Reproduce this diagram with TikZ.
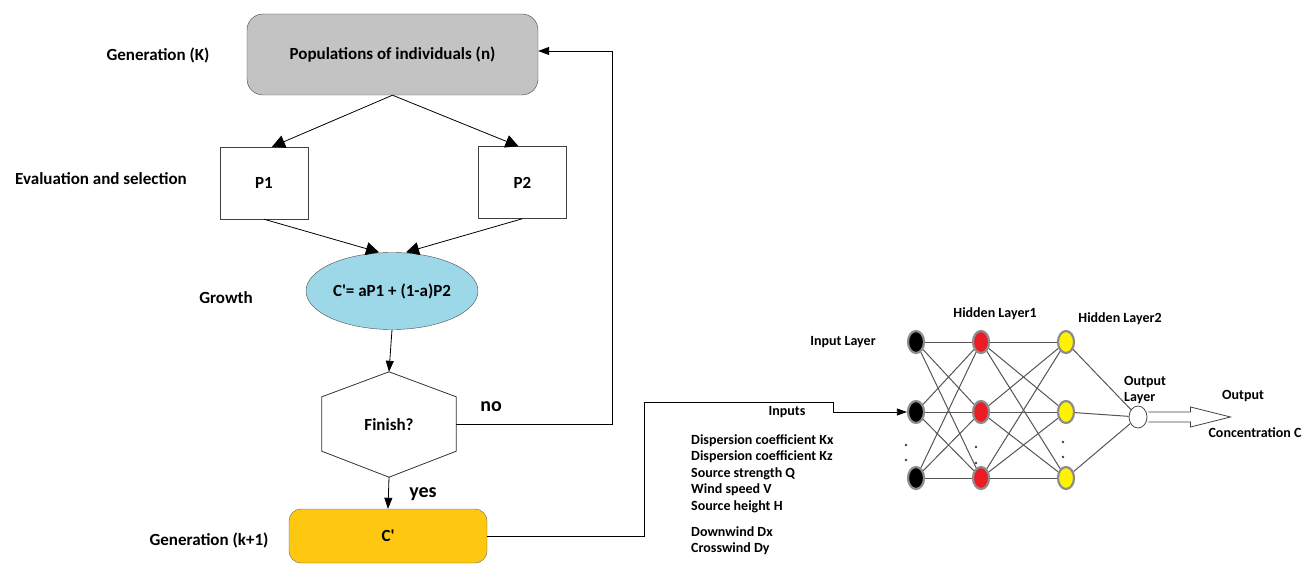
\documentclass[tikz,border=0pt]{standalone}
\usepackage{fontspec}
\setmainfont{Carlito}
\usepackage{tikz}
\usetikzlibrary{arrows.meta}
\usetikzlibrary{calc}
\usetikzlibrary{positioning}
\usetikzlibrary{shapes.geometric}
\definecolor{boxgray}{HTML}{C3C3C3}
\definecolor{growthblue}{HTML}{9DD8E9}
\definecolor{childgold}{HTML}{FEC710}
\definecolor{wiregray}{HTML}{555555}
\definecolor{ringgray}{HTML}{8C8C8C}
\definecolor{neuronred}{HTML}{EC1C24}
\definecolor{neuronyellow}{HTML}{FFF200}
\newcommand\chd{C\textquotesingle}
\tikzstyle{arrow} = [line width=0.8pt,-{Triangle[length=13pt,width=13pt]}]
\tikzstyle{arrow slim} = [line width=0.8pt,-{Triangle[length=11pt,width=8pt]}]
\tikzset{
    flow font/.style={
        font=\fontsize{17}{20}\selectfont\bfseries,
    },
    net font/.style={
        font=\fontsize{14}{16}\selectfont\bfseries,
        text height=1.5ex,
        text depth=.3ex,
        inner sep=0,
    },
    side label/.style={
        flow font,
        inner sep=0,
    },
    branch label/.style={
        font=\fontsize{20}{22}\selectfont\bfseries,
        inner sep=0,
    },
    pop box/.style={
        flow font,
        draw=black!75,
        fill=boxgray,
        rounded corners=16pt,
        minimum width=291pt,
        minimum height=81pt,
    },
    parent box/.style={
        flow font,
        draw=black!75,
        fill=white,
        minimum width=88pt,
        minimum height=72pt,
    },
    growth ellipse/.style={
        flow font,
        ellipse,
        draw=black!70,
        fill=growthblue,
        minimum width=172pt,
        minimum height=77pt,
        inner sep=0,
    },
    finish hex/.style={
        flow font,
        minimum width=134pt,
        minimum height=105pt,
        inner sep=0,
    },
    child box/.style={
        flow font,
        draw=black!60,
        fill=childgold,
        rounded corners=12pt,
        minimum width=198pt,
        minimum height=54pt,
    },
    neuron/.style={
        ellipse,
        draw=ringgray,
        line width=2.2pt,
        minimum width=16pt,
        minimum height=22pt,
        inner sep=0,
    },
    synapse/.style={
        draw=wiregray,
        line width=1pt,
    },
}

\begin{document}
\begin{tikzpicture}[x=1pt,y=-1pt]
    \useasboundingbox (0,0) rectangle (1313,564);

    % genetic algorithm
    \node[pop box] (pop) at (392.5,54.5) {Populations of individuals (n)};
    \node[parent box] (p1) at (264,183) {P1};
    \node[parent box] (p2) at (522.5,182.5) {P2};
    \node[growth ellipse] (growth) at (392,291) {\chd= aP1 + (1-a)P2};
    \node[finish hex] (finish) at (389,424.5) {Finish?};
    \node[child box] (child) at (388,536) {\chd};

    \draw[black!80, line width=0.8pt] (finish.north)
        -- ($(finish.north east)+(0,-25pt)$) -- ($(finish.south east)+(0,26pt)$)
        -- (finish.south)
        -- ($(finish.south west)+(0,26pt)$) -- ($(finish.north west)+(0,-25pt)$)
        -- cycle;

    \node[side label] (genk) at (158,55) {Generation (K)};
    \node[side label] (evalsel) at (101,179) {Evaluation and selection};
    \node[side label] (growlbl) at (226,298) {Growth};
    \node[side label] (genk1) at (209,540) {Generation (k+1)};

    \draw[arrow] (pop.south) -- ($(p1.north)+(8pt,0)$);
    \draw[arrow] (pop.south) -- ($(p2.north)+(-4pt,0)$);
    \draw[arrow] (p1.south) -- ($(growth.north)+(-13pt,0)$);
    \draw[arrow] (p2.south) -- ($(growth.north)+(14pt,0)$);
    \draw[arrow slim] (growth.south) -- (finish.north);
    \draw[arrow slim] (finish.south) -- (child.north);

    \coordinate (loop) at (612,51);
    \draw[arrow slim] (finish.east) -| (loop) -- (loop -| pop.east);
    \node[branch label] (nolbl) at (491,407) {no};
    \node[branch label] (yeslbl) at (423,494) {yes};

    % neural network
    \foreach \name/\x/\col in {in/916/black, hA/981/neuronred, hB/1066/neuronyellow}
    {
        \foreach \i/\y in {1/342,2/412,3/478}
        {
            \node[neuron, fill=\col] (\name\i) at (\x,\y) {};
        }
    }
    \node[neuron, draw=black!70, line width=0.8pt, fill=white, minimum width=18pt] (out) at (1138,417) {};

    \foreach \i in {1,2,3}
    {
        \foreach \j in {1,2,3}
        {
            \draw[synapse] (in\i) -- (hA\j);
            \draw[synapse] (hA\i) -- (hB\j);
        }
        \draw[synapse] (hB\i) -- (out);
    }

    \foreach \x/\y in {906/445, 906/460, 976/447, 976/463, 1063/442, 1063/457}
        \fill[black!75] (\x,\y) circle (1.3pt);

    \draw[black!75, line width=0.8pt] ($(out.east)+(1pt,5pt)$) -- ++(42pt,0) -- ++(0,5pt)
        -- ++(40pt,-10pt) -- ++(-40pt,-10pt) -- ++(0,5pt) -- ++(-42pt,0);

    \coordinate (bend) at (644,402);
    \coordinate (inbend) at (833,402);
    \draw[black, line width=0.8pt, -{Triangle[length=10pt,width=7pt]}]
        (child.east) -| (bend) -- (inbend) |- (in2);

    \node[net font] (inlayer) at (843,343) {Input Layer};
    \node[net font] (hAlbl) at (995,315) {Hidden Layer1};
    \node[net font] (hBlbl) at (1120,320) {Hidden Layer2};
    \node[net font, anchor=west] (outlayer1) at (1124,383) {Output};
    \node[net font, anchor=west] (outlayer2) at (1124,399) {Layer};
    \node[net font] (outlbl) at (1243,397) {Output};
    \node[net font] (conc) at (1255,435) {Concentration C};
    \node[net font] (inputs) at (787,413) {Inputs};

    \foreach \t/\y [count=\k] in {Dispersion coefficient Kx/442, Dispersion coefficient Kz/458,
        Source strength Q/475, Wind speed V/491, Source height H/508, Downwind Dx/534, Crosswind Dy/550}
    {
        \node[net font, anchor=west] (var\k) at (691,\y) {\t};
    }

\end{tikzpicture}
\end{document}
